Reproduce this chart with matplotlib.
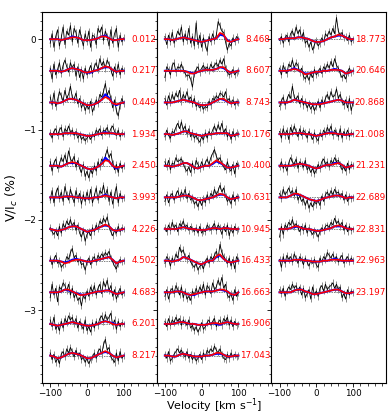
import numpy as np
import matplotlib
matplotlib.use("Agg")
import matplotlib.pyplot as plt
from matplotlib.ticker import MultipleLocator

# ---------------- data ----------------
# observed Stokes V readings in units of 0.015 % of V/Ic, models in 0.01 %
phases_left = ['0.012', '0.217', '0.449', '1.934', '2.450', '3.993',
               '4.226', '4.502', '4.683', '6.201', '8.217']
phases_mid = ['8.468', '8.607', '8.743', '10.176', '10.400', '10.631',
              '10.945', '16.433', '16.663', '16.906', '17.043']
phases_right = ['18.773', '20.646', '20.868', '21.008', '21.231', '22.689',
                '22.831', '22.963', '23.197']

obs_left = [
    [-3, 4, -6, 2, 7, -5, 1, 9, -4, 6, 3, 10, -2, 8, 5, -3, 7, 1, -5, 4, -2, 6, -6, 3, 2, -4, 8, 5, 9, -1, 6, 2, -5, 7, -3, 4, 8, -6, 3, -2, 1],
    [2, -6, 5, -3, 1, 6, -2, 4, 8, 3, -1, 6, 2, 5, -4, 3, -5, 1, -6, 2, -3, 0, 4, -2, 3, 6, 1, 9, 4, 7, 2, 8, 5, 1, -4, 3, -2, 5, -3, 2, 0],
    [4, -2, 7, -3, 2, 8, 5, 1, 9, 3, 6, 12, 4, 2, 7, -1, 3, -4, 0, -6, -2, -5, 1, -7, -3, 2, -1, 6, 4, 8, 14, 5, 9, 3, -4, 2, -6, -10, -2, 3, -1],
    [1, -3, 2, 4, -1, 3, 5, -2, 4, 2, 6, 1, 3, -1, 2, -3, 0, -4, -2, -5, -3, -1, -4, 0, -2, 3, 1, 4, -1, 3, 2, 5, 0, 4, 6, 2, -1, 3, -2, 1, 0],
    [3, -4, 2, 5, -2, 1, 6, 3, 8, 2, 11, 5, 3, 7, -1, 4, -2, -5, 1, -8, -4, -9, -3, -6, 0, -4, 3, -1, 5, 2, 7, 12, 6, 9, 2, -3, 1, -5, 2, -2, 0],
    [-2, 5, -4, 3, 7, -1, 4, -3, 8, 2, -2, 6, 1, -4, 5, -1, 3, -5, 2, -3, 4, -2, 6, -4, 1, 7, -2, 5, 3, 9, 1, 6, -3, 4, -5, 2, 8, -4, 3, -1, 0],
    [1, -2, -4, -1, -5, 2, -3, 4, 1, 6, 3, 7, 2, 5, -1, 3, -3, -6, -1, -9, -4, -2, -5, 1, -2, 3, 0, 6, 4, 8, 5, 9, 2, -2, -5, -1, -3, 2, -2, 1, 0],
    [2, -3, 1, 4, -2, 0, -5, -3, -2, 3, 1, 6, 9, 2, 4, -1, 1, -3, -2, -7, -1, 2, -3, 1, 3, -1, 4, 2, 5, 3, 6, 4, 7, 2, -1, -4, -6, -2, 1, -1, 0],
    [-4, 6, -2, 3, -7, 4, 2, 7, 5, 1, 6, -2, 3, -4, -1, -6, -4, -10, -2, -5, 1, -3, 4, 0, 5, -2, 3, 6, -1, 8, 4, 9, 1, 5, -3, 2, -5, -1, 3, -2, 0],
    [3, -2, 5, -4, -1, -5, 2, -3, 4, 1, 6, 3, 5, 0, 4, -3, 2, -1, -4, 3, -5, -2, -6, 1, -3, 2, -1, 4, 6, 2, 7, 3, 5, 8, -1, 3, -4, 2, -2, 1, 0],
    [2, -3, 1, -5, -2, -6, 1, 3, -1, 5, 2, 6, 3, -1, 4, 0, 2, -3, -1, -5, -2, -6, -3, -1, 2, -2, 3, 5, 1, 8, 12, 4, 6, -1, -3, -5, 2, -4, 3, -2, 0],
]
red_left = [
    [0, 0, 0, -1, 0, 1, 2, 2, 1, -1, -1, -1, 0, 1, 3, 3, 1, -1, -1, 0, 0],
    [0, 0, 0, -1, 0, 2, 3, 2, 1, -1, -2, -1, 0, 1, 3, 5, 4, 1, -1, 0, 0],
    [0, 0, -1, 0, 2, 4, 4, 3, 1, -1, -3, -3, -2, 0, 3, 6, 4, -1, -2, -1, 0],
    [0, 0, 0, 0, 1, 1, 1, 1, 0, -1, -2, -2, -1, 0, 1, 1, 1, 1, 0, 0, 0],
    [0, 0, 0, -1, 1, 3, 4, 3, 1, -1, -3, -4, -3, -1, 2, 6, 5, 0, -2, -1, 0],
    [0, 0, 0, 0, 1, 1, 1, 0, 0, -1, -1, -1, 0, 0, 1, 2, 1, 0, -1, 0, 0],
    [0, -1, -2, -1, 0, 2, 3, 3, 1, -1, -3, -2, -1, 1, 3, 5, 3, -1, -2, -1, 0],
    [0, 0, 0, -1, -3, -2, 0, 1, 1, 0, -1, -1, 0, 1, 2, 3, 4, 1, -3, -1, 0],
    [0, 0, 0, 1, 3, 3, 1, -1, -3, -3, -2, -1, 0, 1, 1, 2, 2, 0, -2, -1, 0],
    [0, -1, -2, -1, 0, 1, 2, 1, 0, -1, -2, -2, -1, 0, 2, 3, 2, 0, -1, 0, 0],
    [0, -1, -3, -2, 0, 2, 3, 2, 1, -1, -3, -3, -1, 1, 3, 5, 3, 0, -2, -1, 0],
]
blue_left = [
    [0, 0, 0, -1, 0, 1, 3, 2, 1, -1, -1, -1, 0, 1, 3, 4, 1, -1, -1, 0, 0],
    [0, 0, 0, -1, 0, 2, 3, 2, 1, -1, -2, -2, 0, 1, 3, 4, 4, 1, -1, 0, 0],
    [0, 0, -1, 0, 2, 4, 4, 3, 1, -1, -3, -3, -2, 0, 3, 9, 5, -1, -3, -1, 0],
    [0, 0, 0, 0, 1, 1, 1, 1, 0, -1, -2, -2, -1, 0, 1, 2, 1, 1, 0, 0, 0],
    [0, 0, 0, -1, 1, 3, 3, 3, 1, -1, -3, -4, -3, -1, 2, 9, 5, 0, -3, -1, 0],
    [0, 0, 0, 0, 1, 1, 1, 0, 0, -1, -1, -1, 0, 0, 1, 3, 1, 0, -1, 0, 0],
    [0, -1, -2, -1, 0, 2, 3, 3, 1, -1, -3, -2, -1, 1, 3, 4, 3, -1, -2, -1, 0],
    [0, 0, 0, -1, -2, -1, 1, 2, 1, 0, -1, -1, 0, 1, 2, 3, 4, 1, -3, -1, 0],
    [0, 0, 0, 1, 3, 2, 1, -1, -2, -3, -2, -1, 0, 1, 1, 2, 2, 0, -2, -1, 0],
    [0, -1, -2, -1, 0, 1, 2, 1, 0, -1, -2, -2, -1, 0, 2, 3, 2, 1, -1, 0, 0],
    [0, -1, -3, -2, 0, 2, 3, 2, 1, -1, -3, -3, -1, 1, 3, 4, 3, 0, -2, -1, 0],
]

obs_mid = [
    [2, -4, 3, -2, 5, -3, 1, 6, 3, 9, -2, 4, -1, 8, -3, 2, -5, 12, -4, 3, -6, 1, -4, -9, 2, -2, 4, -1, 3, 13, 10, 6, 5, -2, -8, -3, -5, 1, -2, 2, 0],
    [-5, 3, 1, -3, 4, 6, -1, 3, 2, 5, 1, -2, -4, -3, -6, -12, -2, 1, 3, -1, 2, 4, 1, 3, 0, 5, 2, 4, 6, 3, 8, 5, 9, 2, -1, -3, -2, 1, -3, -1, 0],
    [3, -2, 5, 0, 6, 2, 7, 4, 9, 1, 6, 3, 8, 2, 4, -1, 3, -3, -1, -4, -2, -5, -3, -4, 1, -2, 3, 2, 5, 3, 7, 6, 4, 8, 1, 3, -1, 2, -2, 1, 0],
    [-2, 3, -1, -3, 2, 1, 5, 8, 4, 9, 3, 6, 0, 4, -2, 1, -3, -1, -4, -6, -2, -4, 1, -3, 2, -1, 3, 6, 2, 7, 3, 8, 1, 4, -2, 1, -4, 2, -2, 1, 0],
    [3, -1, 4, -3, 2, 1, 6, 3, 4, 5, 2, -2, -4, -1, -5, 2, -3, 4, 1, -2, 3, -1, 2, 5, 1, 6, 9, 12, 7, 4, 6, 2, -1, -3, 3, -2, -4, 1, -6, 2, 0],
    [-3, 2, -4, 1, 3, -2, 2, 5, 0, 4, 1, 6, -1, 3, -2, 0, -5, -3, -7, -2, -6, -1, -4, 2, -2, 3, 1, 6, 2, 5, 9, 4, 7, 1, -3, -1, -5, 2, -3, 1, 0],
    [1, -2, 3, -1, 5, 1, 3, -2, 4, 2, 6, 1, 3, -1, 2, 0, -2, 1, -3, 2, -3, -1, -2, 3, 1, -1, 2, 4, -1, 3, 1, -4, 2, -2, 3, -5, 1, -3, 2, -1, 0],
    [-2, 3, 1, -4, 2, -1, 5, 2, 10, 6, 8, 3, 1, 4, -1, -3, -5, -2, -7, -4, -3, -6, -1, 2, -2, 3, 1, 4, 7, 2, 12, 6, 3, 1, -2, 2, -4, 1, -6, 3, 0],
    [-3, 2, -5, 1, 3, -1, 5, 2, -2, 4, -4, 1, -5, -3, -6, 1, -2, 3, -1, 4, 1, 6, -2, 5, 3, -1, 7, 2, 4, 9, 5, 11, 3, 6, -2, -4, -1, -6, 2, -3, 0],
    [2, -2, 4, -1, 3, 1, 5, 2, 4, -1, 3, 1, -1, 3, -3, -1, -5, -2, -6, -3, 1, -4, -2, 1, 3, -1, 2, 4, -2, 1, 3, -1, 4, 2, 5, -1, 3, -2, 2, -1, 0],
    [1, -2, 3, -4, -2, 1, 3, 5, 2, 4, 1, -1, 3, -2, 1, -3, 0, -4, -2, 1, -3, 2, -1, 4, 2, 5, 3, 7, 4, 2, 5, 1, -2, -3, 1, -2, 2, -1, 1, -1, 0],
]
red_mid = [
    [0, 0, -1, 0, 1, 2, 1, 0, -1, -2, -3, -2, -1, 0, 1, 7, 5, -2, -3, -1, 0],
    [0, 0, 0, 0, 0, 0, -1, -3, -3, -1, 0, 1, 1, 1, 2, 4, 4, 0, -2, -1, 0],
    [0, 0, 0, 1, 2, 3, 2, 1, 0, -2, -3, -3, -2, 0, 2, 4, 4, 1, -1, 0, 0],
    [0, 0, -1, 0, 1, 3, 3, 1, 0, -1, -2, -1, 0, 0, 1, 1, 1, 1, -2, -1, 0],
    [0, 0, -1, 0, 1, 3, 3, 1, -2, -3, -1, 0, 0, 3, 6, 4, 1, -2, -2, -1, 0],
    [0, 0, 0, 0, 1, 2, 2, 1, -1, -3, -3, -2, -1, 0, 2, 4, 3, 0, -2, -1, 0],
    [0, 0, 0, 0, 1, 2, 1, 0, 0, -1, -1, -1, 0, 1, 1, 0, 1, 1, 0, 0, 0],
    [0, 0, -1, 0, 1, 4, 3, 1, -1, -3, -4, -2, 0, 0, 5, 7, 2, -1, -2, -1, 0],
    [0, 0, 0, 1, 1, 0, -2, -3, -2, -1, 0, 1, 1, 1, 2, 3, 3, 1, -2, -3, 0],
    [0, 0, 0, 1, 2, 2, 1, 0, 0, -1, -1, -1, 0, 1, 1, 0, 1, 2, 1, 0, 0],
    [0, 0, -1, -1, 1, 2, 1, 0, -1, -1, -1, 0, 0, 1, 3, 3, 1, -1, -1, 0, 0],
]
blue_mid = [
    [0, 0, -1, 0, 1, 2, 1, 0, -1, -2, -3, -2, -1, 0, 1, 5, 4, -1, -3, -1, 0],
    [0, 0, 0, 0, 0, 0, -1, -2, -3, -1, 0, 1, 1, 1, 2, 4, 3, 0, -2, -1, 0],
    [0, 0, 0, 1, 2, 3, 2, 1, 0, -2, -3, -3, -2, 0, 2, 4, 3, 1, -1, 0, 0],
    [0, 0, -1, 0, 1, 3, 3, 1, 0, -1, -2, -1, 0, 0, 1, 1, 1, 1, -2, -1, 0],
    [0, 0, -1, 0, 1, 3, 3, 1, -2, -3, -1, 0, 0, 2, 5, 3, 1, -2, -2, -1, 0],
    [0, 0, 0, 0, 1, 2, 2, 1, -1, -3, -3, -2, -1, 0, 2, 3, 3, 0, -2, -1, 0],
    [0, 0, 0, 0, 1, 2, 1, 0, 0, -1, -1, -1, 0, 1, 1, 0, 1, 1, 0, 0, 0],
    [0, 0, -1, 0, 1, 4, 3, 1, -1, -3, -4, -2, 0, 0, 4, 6, 2, -1, -2, -1, 0],
    [0, 0, 0, 1, 1, 0, -2, -3, -3, -1, 0, 1, 1, 1, 2, 3, 2, 1, -2, -3, 0],
    [0, 0, 0, 1, 2, 2, 1, 0, 0, -1, -1, -1, 0, 1, 0, -1, 1, 2, 1, 0, 0],
    [0, 0, -1, -1, 1, 2, 1, 0, -1, -1, -1, 0, 0, 1, 2, 2, 1, -1, -1, 0, 0],
]

obs_right = [
    [-1, 2, -3, 1, 3, -2, 4, 6, 2, 9, 4, 7, 1, 5, -3, -1, -6, -2, -8, -4, -1, -5, -3, 1, -2, 4, 2, 6, 3, 8, 4, 16, 6, 3, 5, 1, 2, -1, 3, -2, 0],
    [2, -3, 4, 1, -2, 5, 3, 8, 2, 6, 4, -1, 2, -4, -6, -3, -7, -2, -5, 1, -3, -1, 2, -2, 3, 1, 5, 2, 7, 3, 9, 4, 2, -2, -5, -3, -6, -1, 2, -1, 0],
    [-3, 1, 4, -2, 2, 6, 3, 12, 4, 2, 5, -1, 3, -2, 1, -4, -1, -5, -2, -6, -3, 1, -4, 2, -1, 3, 6, 2, 8, 4, 5, 10, 3, 6, 1, -2, 2, -4, 3, -6, 0],
    [2, -3, 4, -1, 3, -4, 5, 1, 6, 2, -2, 4, -1, 3, 1, -3, 2, -1, -4, 1, -3, -5, 1, -2, 3, 0, 5, 2, 6, -1, 3, 1, -2, 4, -3, 2, -1, 3, -2, 1, 0],
    [-1, 3, -2, 1, -4, 2, 6, 3, 1, 5, -2, 3, 1, -1, 4, -3, -1, -5, -2, -6, -3, 1, -2, 3, 5, 1, 3, -1, 4, 2, 6, 3, 4, 1, -3, -1, -4, 2, -3, 1, 0],
    [3, -1, 6, 2, 4, 7, 3, 5, 1, 6, -2, 1, -3, -1, -6, -2, -8, -4, -7, -3, -5, -2, -6, 1, -3, 2, 4, 1, 5, 2, 6, 3, 4, 1, 3, -2, 2, -3, 1, -1, 0],
    [-6, 2, -4, 3, 1, 5, 3, 7, 2, 4, 1, -2, 2, -1, 3, -3, 1, -2, -4, -1, -3, -6, -2, 1, -1, 2, 3, 1, 5, 3, 8, 4, 6, 2, 5, -1, 3, -2, 2, -1, 0],
    [1, -5, 3, -2, 4, 1, 3, -1, 5, 2, -2, 3, 1, -3, 2, -1, -4, 0, -2, 1, -3, -5, 2, -1, 3, 1, 6, 4, 2, 5, 1, 3, -1, 2, 4, -2, 1, 3, -1, 2, 0],
    [2, -1, 3, -3, 1, 4, 2, 6, 3, 5, 1, 4, -2, 3, -4, -1, 2, -5, 4, -2, 1, -3, 3, 5, 1, 6, 2, 4, 5, 7, 3, 6, 2, 4, -4, -1, -5, 2, -2, 1, 0],
]
red_right = [
    [0, 0, 1, 1, 1, 2, 2, 1, 0, -2, -3, -3, -2, 0, 2, 3, 5, 4, 2, 0, 0],
    [0, 0, 0, 1, 2, 1, -1, -4, -3, -2, -1, -1, 0, 0, 1, 1, 1, 0, -3, -2, 0],
    [0, 0, 0, 1, 3, 2, 1, 0, -1, -2, -2, -2, -1, 0, 1, 2, 3, 2, 0, 0, 0],
    [0, 0, 0, 0, 1, 1, 1, 0, 0, -1, -2, -1, 0, 1, 1, 1, 0, 0, -1, 0, 0],
    [0, 0, 0, 0, 1, 2, 2, 1, 0, -2, -3, -2, 0, 1, 1, 2, 3, 1, -2, -1, 0],
    [0, 0, 0, 2, 4, 4, 2, 0, -2, -3, -4, -3, -1, 0, 1, 2, 2, 1, -1, 0, 0],
    [0, 0, 0, 1, 3, 3, 1, 0, 0, -1, -2, -2, -1, 0, 1, 3, 4, 3, 1, 0, 0],
    [0, 0, 0, 0, 1, 1, 1, 0, 0, -1, -1, -1, 0, 0, 1, 1, 1, 0, 0, 0, 0],
    [0, 0, 0, 0, 2, 3, 3, 1, 0, -2, -2, -1, 0, 1, 2, 3, 3, 1, -1, -1, 0],
]
blue_right = [
    [0, 0, 1, 1, 1, 2, 2, 1, 0, -2, -3, -3, -2, 0, 2, 3, 4, 4, 2, 0, 0],
    [0, 0, 0, 1, 3, 1, -1, -3, -3, -2, -1, -1, 0, 0, 1, 2, 1, 0, -3, -2, 0],
    [0, 0, 0, 1, 3, 2, 1, 0, -1, -2, -2, -1, -1, 0, 1, 2, 3, 2, 0, 0, 0],
    [0, 0, 0, 0, 1, 1, 1, 0, 0, -1, -2, -1, 0, 1, 2, 1, 0, 0, -1, 0, 0],
    [0, 0, 0, 0, 1, 2, 2, 1, 0, -2, -3, -2, 0, 1, 1, 3, 3, 1, -2, -1, 0],
    [0, 0, 0, 2, 4, 3, 2, 0, -2, -3, -4, -3, -1, 0, 1, 2, 2, 1, -1, 0, 0],
    [0, 0, 0, 1, 2, 3, 1, 0, 0, -1, -2, -2, -1, 0, 1, 3, 3, 3, 1, 0, 0],
    [0, 0, 0, 0, 1, 1, 1, 0, 0, -1, -1, -1, 0, 0, 1, 2, 1, 0, 0, 0, 0],
    [0, 0, 0, 0, 2, 3, 3, 1, 0, -2, -2, -1, 0, 1, 2, 3, 3, 1, -1, -1, 0],
]

obs_unit = 0.015         # % per reading unit of the observed profiles
model_unit = 0.01        # % per reading unit of the model profiles
obs_error = 2.5          # typical error bar, in observed reading units
step = 0.35              # vertical shift between successive profiles (%)

# ---------------- plotting ----------------
fig, axes = plt.subplots(1, 3, figsize=(3.9, 4.16), dpi=100, sharey=True)
fig.subplots_adjust(left=0.108, right=0.99, top=0.971, bottom=0.08, wspace=0)

panels = [(phases_left, obs_left, red_left, blue_left),
          (phases_mid, obs_mid, red_mid, blue_mid),
          (phases_right, obs_right, red_right, blue_right)]

for ax, (phs, obs, red, blue) in zip(axes, panels):
    for i, ph in enumerate(phs):
        off = -step * i
        o = np.array(obs[i]) * obs_unit
        vo = np.linspace(-100, 100, len(o))
        r = np.array(red[i]) * model_unit
        b = np.array(blue[i]) * model_unit
        vm = np.linspace(-100, 100, len(r))
        ax.plot([-100, 100], [off, off], ls=(0, (2, 1.5)), color='0.3', lw=0.5, zorder=1)
        ax.errorbar(vo, o + off, yerr=obs_error * obs_unit, fmt='-', color='k', lw=0.6,
                    ecolor='0.55', elinewidth=0.7, capsize=0, zorder=2)
        ax.plot(vm, b + off, color='blue', lw=1.5, zorder=3)
        ax.plot(vm, r + off, color='red', lw=1.2, zorder=4)
        ax.text(188, off, ph, color='red', fontsize=6.3, ha='right', va='center')
    ax.set_xlim(-122, 190)
    ax.set_xticks([-100, 0, 100])
    ax.xaxis.set_minor_locator(MultipleLocator(20))
    ax.tick_params(axis='both', which='major', labelsize=6.3, length=3, width=0.6, pad=1.5)
    ax.tick_params(axis='both', which='minor', length=1.8, width=0.5)
    for s in ax.spines.values():
        s.set_linewidth(0.8)

axes[0].set_ylim(-3.8, 0.3)
axes[0].set_yticks([0, -1, -2, -3])
axes[0].yaxis.set_minor_locator(MultipleLocator(0.1))
for ax in axes[1:]:
    ax.tick_params(axis='y', labelleft=False)
axes[0].set_ylabel('V/I$_c$ (%)', fontsize=9, labelpad=2)
axes[1].set_xlabel('Velocity [km s$^{-1}$]', fontsize=8, labelpad=-1)

fig.savefig('out.png', dpi=100)
